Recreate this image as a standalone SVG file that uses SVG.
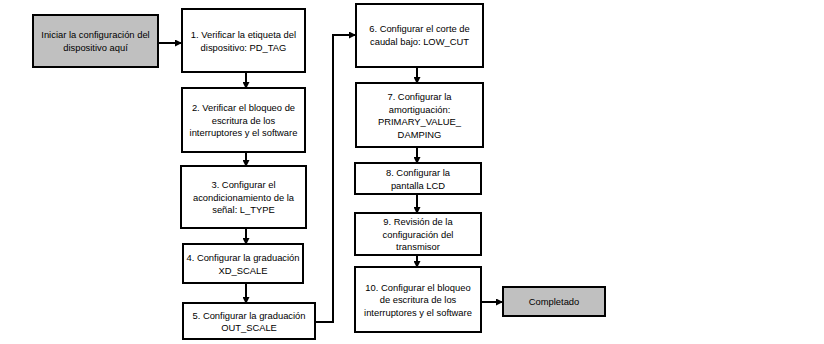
<svg xmlns="http://www.w3.org/2000/svg" width="824" height="344" viewBox="0 0 824 344">
<defs>
<marker id="ah" markerWidth="7" markerHeight="7" refX="6" refY="3.5" orient="auto" markerUnits="userSpaceOnUse">
<path d="M0,0 L7,3.5 L0,7 Z" fill="#000"/>
</marker>
<style>
.b{fill:#fff;stroke:#000;stroke-width:2}
.g{fill:#c0c0c0;stroke:#000;stroke-width:2}
text{font-family:"Liberation Sans","Noto Sans",sans-serif;font-size:9.4px;fill:#000;text-anchor:middle;dominant-baseline:central}
.c{fill:none;stroke:#000;stroke-width:2;marker-end:url(#ah)}
</style>
</defs>
<rect width="824" height="344" fill="#fff"/>
<g id="start"><rect class="g" x="33" y="15" width="125" height="52"/><text x="95.5" y="34.5">Iniciar la configuración del</text><text x="95.5" y="47">dispositivo aquí</text></g>
<g id="n1"><rect class="b" x="182" y="9" width="123" height="63"/><text x="243.5" y="34.5">1. Verificar la etiqueta del</text><text x="243.5" y="47">dispositivo: PD_TAG</text></g>
<g id="n2"><rect class="b" x="182" y="88" width="123" height="64"/><text x="243.5" y="107.5">2. Verificar el bloqueo de</text><text x="243.5" y="120">escritura de los</text><text x="243.5" y="132.5">interruptores y el software</text></g>
<g id="n3"><rect class="b" x="181" y="166" width="125" height="62"/><text x="243.5" y="184.5">3. Configurar el</text><text x="243.5" y="197">acondicionamiento de la</text><text x="243.5" y="209.5">señal: L_TYPE</text></g>
<g id="n4"><rect class="b" x="183" y="244" width="120" height="39"/><text x="243" y="257.5">4. Configurar la graduación</text><text x="243" y="270">XD_SCALE</text></g>
<g id="n5"><rect class="b" x="183" y="303" width="132" height="36"/><text x="249" y="315">5. Configurar la graduación</text><text x="249" y="327.5">OUT_SCALE</text></g>
<g id="n6"><rect class="b" x="356" y="4" width="127" height="63"/><text x="419.5" y="28.5">6. Configurar el corte de</text><text x="419.5" y="41">caudal bajo: LOW_CUT</text></g>
<g id="n7"><rect class="b" x="356" y="83" width="127" height="64"/><text x="419.5" y="96.5">7. Configurar la</text><text x="419.5" y="109">amortiguación:</text><text x="419.5" y="121.5">PRIMARY_VALUE_</text><text x="419.5" y="134">DAMPING</text></g>
<g id="n8"><rect class="b" x="355" y="163" width="126" height="31"/><text x="418" y="172.5">8. Configurar la</text><text x="418" y="185">pantalla LCD</text></g>
<g id="n9"><rect class="b" x="355" y="213" width="126" height="42"/><text x="418" y="221.5">9. Revisión de la</text><text x="418" y="234">configuración del</text><text x="418" y="246.5">transmisor</text></g>
<g id="n10"><rect class="b" x="355" y="267" width="126" height="65"/><text x="418" y="287">10. Configurar el bloqueo</text><text x="418" y="299.5">de escritura de los</text><text x="418" y="312">interruptores y el software</text></g>
<g id="done"><rect class="g" x="503" y="287" width="102" height="29"/><text x="554" y="301.5">Completado</text></g>
<g id="connectors">
<path class="c" d="M158,43 H181"/>
<path class="c" d="M246,72 V88"/>
<path class="c" d="M246,152 V166"/>
<path class="c" d="M246,228 V244"/>
<path class="c" d="M246,283 V303"/>
<path class="c" d="M315,322 H333 V35 H355"/>
<path class="c" d="M417,67 V83"/>
<path class="c" d="M417,147 V163"/>
<path class="c" d="M417,194 V213"/>
<path class="c" d="M417,255 V267"/>
<path class="c" d="M481,302 H502"/>
</g>
</svg>
